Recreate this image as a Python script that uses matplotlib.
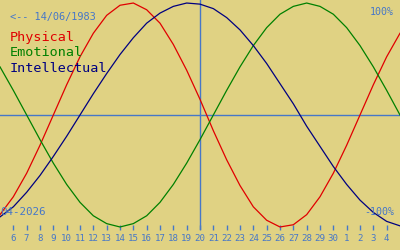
import matplotlib
matplotlib.use("Agg")
import matplotlib.pyplot as plt

# days shown (April 2026 -> May 2026), today = 20
day_labels = ["6", "7", "8", "9", "10", "11", "12", "13", "14", "15", "16", "17",
              "18", "19", "20", "21", "22", "23", "24", "25", "26", "27", "28",
              "29", "30", "1", "2", "3", "4"]
today_index = 14

# curve values read at each day slot, from one slot before "6" to one after "4"
slots = list(range(-1, 30))
physical = [-0.89, -0.73, -0.52, -0.27, 0.0, 0.27, 0.52, 0.73, 0.89, 0.98, 1.0,
            0.94, 0.82, 0.63, 0.40, 0.14, -0.14, -0.40, -0.63, -0.82, -0.94, -1.0,
            -0.98, -0.89, -0.73, -0.52, -0.27, 0.0, 0.27, 0.52, 0.73]
emotional = [0.43, 0.22, 0.0, -0.22, -0.43, -0.62, -0.78, -0.90, -0.97, -1.0,
             -0.97, -0.90, -0.78, -0.62, -0.43, -0.22, 0.0, 0.22, 0.43, 0.62,
             0.78, 0.90, 0.97, 1.0, 0.97, 0.90, 0.78, 0.62, 0.43, 0.22, 0.0]
intellectual = [-0.91, -0.82, -0.69, -0.54, -0.37, -0.19, 0.0, 0.19, 0.37, 0.54,
                0.69, 0.82, 0.91, 0.97, 1.0, 0.99, 0.95, 0.87, 0.76, 0.62, 0.46,
                0.28, 0.10, -0.10, -0.28, -0.46, -0.62, -0.76, -0.87, -0.95, -0.99]

bg = "#e0d283"
blue = "#4677c8"
mono = "DejaVu Sans Mono"

fig = plt.figure(figsize=(4, 2.5), dpi=100, facecolor=bg)
ax = fig.add_axes([0, 20 / 250, 1, 230 / 250], facecolor=bg)

ax.axhline(0, color=blue, lw=1)
ax.axvline(today_index, color=blue, lw=1)
ax.plot(slots, physical, color="#e00000", lw=0.9)
ax.plot(slots, emotional, color="#008000", lw=0.9)
ax.plot(slots, intellectual, color="#000080", lw=0.9)

ax.set_xlim(-1, 29)
ax.set_ylim(-1.027, 1.027)
ax.set_xticks(range(len(day_labels)))
ax.set_xticklabels(day_labels, fontfamily=mono, fontsize=6.6, color=blue)
ax.tick_params(axis="x", direction="in", length=3.8, width=1, color=blue, pad=3.2)
ax.set_yticks([])
for s in ax.spines.values():
    s.set_visible(False)

def px(x, y):
    return x / 400, 1 - y / 250

fig.text(*px(10, 17), "<-- 14/06/1983", fontfamily=mono, fontsize=7.4,
         color=blue, va="center", ha="left")
fig.text(*px(10, 38), "Physical", fontfamily=mono, fontsize=9.7,
         color="#e00000", va="center", ha="left")
fig.text(*px(10, 53), "Emotional", fontfamily=mono, fontsize=9.7,
         color="#008000", va="center", ha="left")
fig.text(*px(10, 68), "Intellectual", fontfamily=mono, fontsize=9.7,
         color="#000080", va="center", ha="left")
fig.text(*px(394, 12), "100%", fontfamily=mono, fontsize=7.2,
         color=blue, va="center", ha="right")
fig.text(*px(394, 212), "-100%", fontfamily=mono, fontsize=7.2,
         color=blue, va="center", ha="right")
fig.text(*px(0, 212), "04-2026", fontfamily=mono, fontsize=7.8,
         color=blue, va="center", ha="left")

fig.savefig("out.png", dpi=100, facecolor=bg)
